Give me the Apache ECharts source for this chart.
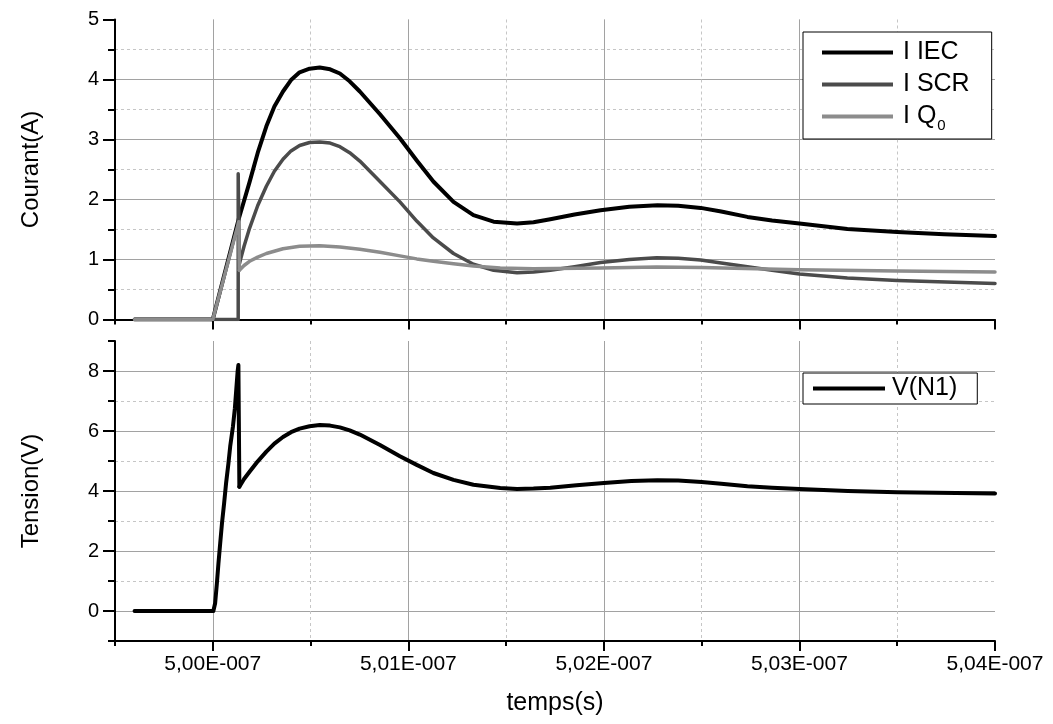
<!DOCTYPE html>
<html><head><meta charset="utf-8">
<script src="https://cdn.jsdelivr.net/npm/echarts@6/dist/echarts.min.js"></script>
<style>html,body{margin:0;padding:0;background:#fff}#c{width:1053px;height:724px}</style>
</head><body><div id="c"></div>
<script>
// ---- data (time in ns) ----
const xMajorTicks = [500, 501, 502, 503, 504];
const yTopMajor = [0, 1, 2, 3, 4, 5];
const yBotMajor = [0, 2, 4, 6, 8];

// I IEC
const tIecA = [499.6, 500.0];
const vIecA = [0, 0];
const tIecB = [500.0, 500.133, 500.188, 500.23, 500.274, 500.315, 500.359, 500.4, 500.444, 500.495, 500.547, 500.6, 500.65, 500.7, 500.752, 500.855, 500.957, 501.043, 501.128, 501.231, 501.333, 501.436, 501.556, 501.64, 501.726, 501.85, 501.983, 502.13, 502.274, 502.38, 502.495, 502.6, 502.734, 502.86, 503.0, 503.245, 503.5, 503.74, 504.0];
const vIecB = [0, 1.68, 2.29, 2.78, 3.22, 3.55, 3.8, 3.99, 4.12, 4.18, 4.2, 4.17, 4.1, 3.97, 3.8, 3.42, 3.02, 2.65, 2.3, 1.96, 1.74, 1.63, 1.60, 1.62, 1.67, 1.75, 1.82, 1.88, 1.905, 1.895, 1.86, 1.8, 1.71, 1.65, 1.60, 1.51, 1.46, 1.42, 1.39];

// I SCR
const tScrA = [499.6, 500.13, 500.13, 500.136];
const vScrA = [0, 0, 2.43, 0.93];
const tScrB = [500.136, 500.16, 500.188, 500.23, 500.274, 500.315, 500.359, 500.4, 500.444, 500.495, 500.547, 500.6, 500.65, 500.7, 500.752, 500.855, 500.957, 501.043, 501.128, 501.231, 501.333, 501.436, 501.556, 501.64, 501.726, 501.85, 501.983, 502.13, 502.27, 502.38, 502.495, 502.6, 502.734, 502.86, 503.0, 503.245, 503.5, 504.0];
const vScrB = [0.93, 1.22, 1.52, 1.9, 2.22, 2.47, 2.67, 2.81, 2.9, 2.95, 2.96, 2.94, 2.88, 2.78, 2.64, 2.3, 1.96, 1.64, 1.36, 1.1, 0.92, 0.82, 0.78, 0.79, 0.82, 0.88, 0.95, 1.0, 1.03, 1.02, 0.99, 0.94, 0.88, 0.82, 0.76, 0.69, 0.65, 0.60];

// I Q0
const tQ0A = [499.6, 500.0, 500.133, 500.136];
const vQ0A = [0, 0, 1.63, 0.82];
const tQ0B = [500.136, 500.16, 500.188, 500.23, 500.274, 500.359, 500.444, 500.547, 500.65, 500.752, 500.855, 500.957, 501.043, 501.128, 501.231, 501.333, 501.47, 501.64, 501.983, 502.27, 502.5, 503.0, 503.5, 504.0];
const vQ0B = [0.82, 0.9, 0.97, 1.04, 1.1, 1.18, 1.22, 1.23, 1.21, 1.17, 1.12, 1.06, 1.01, 0.97, 0.93, 0.89, 0.86, 0.845, 0.86, 0.875, 0.865, 0.83, 0.81, 0.79];

// V(N1)
const tVA = [499.6, 500.003, 500.012, 500.021, 500.029, 500.038, 500.047, 500.058, 500.068, 500.08, 500.089, 500.103, 500.113, 500.12, 500.127, 500.131, 500.136];
const vVA = [0, 0, 0.26, 0.92, 1.59, 2.26, 2.92, 3.59, 4.26, 4.92, 5.48, 6.14, 6.76, 7.37, 7.98, 8.2, 4.14];
const tVB = [500.136, 500.16, 500.188, 500.23, 500.274, 500.315, 500.359, 500.4, 500.444, 500.495, 500.547, 500.6, 500.65, 500.7, 500.752, 500.855, 500.957, 501.043, 501.128, 501.231, 501.333, 501.47, 501.556, 501.64, 501.726, 501.86, 502.0, 502.14, 502.273, 502.38, 502.5, 502.6, 502.734, 502.86, 503.0, 503.247, 503.5, 504.0];
const vVB = [4.14, 4.4, 4.64, 4.99, 5.31, 5.58, 5.8, 5.96, 6.08, 6.16, 6.2, 6.18, 6.12, 6.02, 5.88, 5.53, 5.16, 4.87, 4.6, 4.37, 4.21, 4.1, 4.07, 4.08, 4.11, 4.19, 4.27, 4.33, 4.36, 4.35, 4.3, 4.24, 4.16, 4.11, 4.07, 4.0, 3.96, 3.92];

// ---- chart ----
const zip = (t, v) => t.map((x, i) => [x, v[i]]);
const FONT = 'Liberation Sans';
const MAJ = '#a2a2a2', MIN = '#c6c6c6';
const X_MIN = 499.5, X_MAX = 504;
const blackLine = {color: '#000', width: 2};

function xMinor(g) {
  return {type: 'value', gridIndex: g, position: 'bottom', min: X_MIN, max: X_MAX, interval: 0.5,
    axisLine: {show: true, onZero: false, lineStyle: blackLine},
    axisTick: {show: true, length: 5, lineStyle: blackLine},
    axisLabel: {show: false},
    splitLine: {show: true, showMinLine: false, showMaxLine: false, lineStyle: {color: MIN, width: 1, type: [3, 3]}}};
}
function xMajor(g, withLabels) {
  const a = {type: 'value', gridIndex: g, position: 'bottom', min: X_MIN, max: X_MAX, interval: 0.5,
    axisLine: {show: false, onZero: false},
    axisTick: {show: true, customValues: xMajorTicks, length: 10, lineStyle: blackLine},
    axisLabel: {show: withLabels, customValues: xMajorTicks, fontSize: 21, fontFamily: FONT, color: '#000', margin: 13,
      formatter: v => (v / 100).toFixed(2).replace('.', ',') + 'E-007'},
    splitLine: {show: true, showMinLine: true, showMaxLine: false, lineStyle: {color: MAJ, width: 1}}};
  if (withLabels) {
    a.name = 'temps(s)'; a.nameLocation = 'middle'; a.nameGap = 50;
    a.nameTextStyle = {fontSize: 25, fontFamily: FONT, color: '#000'};
  }
  return a;
}
function yMinor(g, min, max, interval) {
  return {type: 'value', gridIndex: g, position: 'left', min, max, interval,
    axisLine: {show: true, onZero: false, lineStyle: blackLine},
    axisTick: {show: true, length: 7, lineStyle: blackLine},
    axisLabel: {show: false},
    splitLine: {show: true, showMinLine: false, showMaxLine: false, lineStyle: {color: MIN, width: 1, type: [3, 3]}}};
}
function yMajor(g, min, max, interval, ticks, name, showMin, showMax) {
  return {type: 'value', gridIndex: g, position: 'left', min, max, interval,
    axisLine: {show: false, onZero: false},
    axisTick: {show: true, customValues: ticks, length: 12, lineStyle: blackLine},
    axisLabel: {show: true, customValues: ticks, fontSize: 20, fontFamily: FONT, color: '#000', margin: 16},
    splitLine: {show: true, showMinLine: showMin, showMaxLine: showMax, lineStyle: {color: MAJ, width: 1}},
    name, nameLocation: 'middle', nameGap: 72, nameTextStyle: {fontSize: 24, fontFamily: FONT, color: '#000'}};
}

function line(name, color, data, xi, yi, width) {
  return {type: 'line', name, color, xAxisIndex: xi, yAxisIndex: yi, data, showSymbol: false, symbol: 'none',
    smooth: false, lineStyle: {color, width: width, join: 'round', cap: 'round'},
    emphasis: {disabled: true}, animation: false};
}

const C_IEC = '#000000', C_SCR = '#4b4b4b', C_Q0 = '#8c8c8c';

const option = {
  backgroundColor: '#fff',
  animation: false,
  grid: [
    {left: 115, right: 58, top: 19.5, height: 300},
    {left: 115, right: 58, top: 341, height: 300}
  ],
  xAxis: [xMinor(0), xMajor(0, false), xMinor(1), xMajor(1, true)],
  yAxis: [
    yMinor(0, 0, 5, 0.5),
    yMajor(0, 0, 5, 0.5, yTopMajor, 'Courant(A)', false, false),
    yMinor(1, -1, 9, 1),
    yMajor(1, -1, 9, 1, yBotMajor, 'Tension(V)', true, true)
  ],
  legend: [
    {orient: 'vertical', left: 803, top: 32, data: ['I IEC', 'I SCR', 'I Q0'],
      icon: 'rect', itemWidth: 71, itemHeight: 4, itemGap: 7,
      padding: [8, 22, 6, 19], borderColor: '#000', borderWidth: 1, borderRadius: 0, backgroundColor: '#fff',
      formatter: n => n === 'I Q0' ? 'I Q{s|0}' : n,
      textStyle: {fontSize: 25, fontFamily: FONT, color: '#000', padding: [0, 0, 0, 5],
        rich: {s: {fontSize: 15, fontFamily: FONT, color: '#000', padding: [18, 0, 0, 1]}}}},
    {orient: 'vertical', left: 803, top: 373, data: ['V(N1)'],
      icon: 'rect', itemWidth: 72, itemHeight: 4,
      padding: [3, 20, 3, 10], borderColor: '#000', borderWidth: 1, borderRadius: 0, backgroundColor: '#fff',
      textStyle: {fontSize: 25, fontFamily: FONT, color: '#000', padding: [0, 0, 0, 2]}}
  ],
  series: [
    line('I IEC', C_IEC, zip(tIecA, vIecA), 0, 0, 4),
    line('I IEC', C_IEC, zip(tIecB, vIecB), 0, 0, 4),
    line('I SCR', C_SCR, zip(tScrA, vScrA), 0, 0, 3.5),
    line('I SCR', C_SCR, zip(tScrB, vScrB), 0, 0, 3.5),
    line('I Q0', C_Q0, zip(tQ0A, vQ0A), 0, 0, 3.5),
    line('I Q0', C_Q0, zip(tQ0B, vQ0B), 0, 0, 3.5),
    line('V(N1)', '#000', zip(tVA, vVA), 2, 2, 4),
    line('V(N1)', '#000', zip(tVB, vVB), 2, 2, 4)
  ]
};
const chart = echarts.init(document.getElementById('c'), null, {renderer: 'canvas'});
chart.setOption(option);
</script></body></html>
